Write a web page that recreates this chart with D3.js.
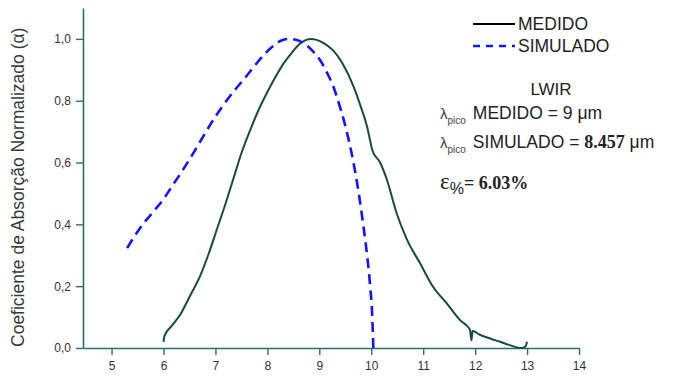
<!DOCTYPE html>
<html>
<head>
<meta charset="utf-8">
<script src="https://cdn.jsdelivr.net/npm/d3@7"></script>
<style>
  body { margin: 0; background: #fff; }
  svg { display: block; font-family: "Liberation Sans", Arial, sans-serif; }
</style>
</head>
<body>
<div id="view"></div>
<script>
// measured curve (green) and simulated curve (blue dashed)
const medidoX = [6.0, 6.02, 6.15, 6.33, 6.5, 6.71, 6.87, 7.03, 7.2, 7.35, 7.5, 7.67, 7.83, 7.99, 8.15, 8.31, 8.47, 8.63, 8.75, 8.83, 8.95, 9.1, 9.27, 9.45, 9.66, 9.8, 9.92, 9.98, 10.02, 10.17, 10.3, 10.49, 10.69, 10.94, 11.19, 11.45, 11.71, 11.9, 11.93, 11.95, 12.1, 12.3, 12.48, 12.65, 12.8, 12.9, 12.97, 13.0];
const medidoY = [0.02, 0.04, 0.07, 0.11, 0.165, 0.235, 0.305, 0.385, 0.47, 0.55, 0.63, 0.705, 0.77, 0.825, 0.875, 0.92, 0.955, 0.985, 0.997, 1.0, 0.997, 0.985, 0.962, 0.92, 0.846, 0.78, 0.716, 0.67, 0.64, 0.6, 0.545, 0.435, 0.35, 0.274, 0.198, 0.145, 0.09, 0.06, 0.025, 0.055, 0.042, 0.03, 0.02, 0.01, 0.002, 0.0, 0.005, 0.02];

const simuladoX = [5.3, 5.46, 5.62, 5.8, 6.01, 6.17, 6.33, 6.5, 6.65, 6.82, 7.0, 7.17, 7.35, 7.55, 7.74, 7.93, 8.12, 8.27, 8.41, 8.55, 8.7, 8.86, 9.02, 9.15, 9.27, 9.37, 9.47, 9.57, 9.66, 9.76, 9.85, 9.92, 9.98, 10.02, 10.04];
const simuladoY = [0.323, 0.366, 0.404, 0.44, 0.484, 0.525, 0.565, 0.61, 0.652, 0.70, 0.749, 0.79, 0.83, 0.87, 0.91, 0.948, 0.978, 0.995, 1.0, 0.997, 0.986, 0.963, 0.93, 0.89, 0.846, 0.795, 0.738, 0.67, 0.598, 0.5, 0.393, 0.3, 0.198, 0.1, 0.0];

const xTicks = [5, 6, 7, 8, 9, 10, 11, 12, 13, 14];
const yTicks = [0, 0.2, 0.4, 0.6, 0.8, 1.0];

const W = 690, H = 378;
const axisColor = '#2f6f6a';
const medidoColor = '#184a42';
const simuladoColor = '#1414ff';

const svg = d3.select('#view').append('svg')
  .attr('width', W)
  .attr('height', H);

const x = d3.scaleLinear().domain([4.45, 14]).range([83, 579]);
const y = d3.scaleLinear().domain([0, 1.1]).range([348, 8]);

// x axis: major + minor ticks
const gx = svg.append('g').attr('transform', `translate(0, ${y(0)})`);
gx.call(d3.axisBottom(x).tickValues(d3.range(4.5, 14.01, 0.5)).tickSize(4).tickFormat(''));
gx.call(d3.axisBottom(x).tickValues(xTicks).tickSize(7).tickSizeOuter(0).tickPadding(6).tickFormat(d3.format('d')));

// y axis
const gy = svg.append('g').attr('transform', `translate(${x(4.45)}, 0)`);
gy.call(d3.axisLeft(y).tickValues(d3.range(0, 1.101, 0.1)).tickSize(4).tickFormat(''));
gy.call(d3.axisLeft(y).tickValues(yTicks).tickSize(7).tickSizeOuter(0).tickPadding(5)
  .tickFormat(d => d3.format('.1f')(d).replace('.', ',')));

svg.selectAll('.domain').attr('stroke', axisColor).attr('stroke-width', 1.6);
svg.selectAll('.tick line').attr('stroke', axisColor).attr('stroke-width', 1.4);
svg.selectAll('.tick text')
  .attr('fill', '#333')
  .style('font-size', '12px')
  .style('font-family', '"Liberation Sans", Arial, sans-serif');

// y label
svg.append('text')
  .attr('transform', `translate(24, ${y(0.52)}) rotate(-90)`)
  .attr('text-anchor', 'middle')
  .attr('fill', '#3a3a3a')
  .style('font-size', '17.5px')
  .text('Coeficiente de Absorção Normalizado (α)');

// curves
const line = d3.line()
  .x(d => x(d[0]))
  .y(d => y(d[1]))
  .curve(d3.curveMonotoneX);

svg.append('path')
  .datum(d3.zip(medidoX, medidoY))
  .attr('fill', 'none')
  .attr('stroke', medidoColor)
  .attr('stroke-width', 2)
  .attr('d', line);

svg.append('path')
  .datum(d3.zip(simuladoX, simuladoY))
  .attr('fill', 'none')
  .attr('stroke', simuladoColor)
  .attr('stroke-width', 2.6)
  .attr('stroke-dasharray', '10,6')
  .attr('d', line);

// legend
const legend = svg.append('g');
legend.append('line')
  .attr('x1', 473).attr('x2', 515).attr('y1', 24).attr('y2', 24)
  .attr('stroke', '#000').attr('stroke-width', 2.2);
legend.append('text').attr('x', 518).attr('y', 30)
  .style('font-size', '17.5px').attr('fill', '#222').text('MEDIDO');
legend.append('line')
  .attr('x1', 473).attr('x2', 515).attr('y1', 46).attr('y2', 46)
  .attr('stroke', simuladoColor).attr('stroke-width', 2.4)
  .attr('stroke-dasharray', '7,6');
legend.append('text').attr('x', 518).attr('y', 52)
  .style('font-size', '17.5px').attr('fill', '#222').text('SIMULADO');

// annotations
svg.append('text').attr('x', 551).attr('y', 95)
  .attr('text-anchor', 'middle')
  .style('font-size', '17px').attr('fill', '#222').text('LWIR');

const t1 = svg.append('text').attr('x', 440).attr('y', 119)
  .style('font-size', '17.5px').attr('fill', '#222');
t1.append('tspan').style('font-size', '15px').attr('fill', '#444').text('λ');
t1.append('tspan').attr('dy', 5).style('font-size', '10px').attr('fill', '#444').text('pico');
t1.append('tspan').attr('dy', -5).attr('dx', 7).text('MEDIDO = 9 μm');

const t2 = svg.append('text').attr('x', 440).attr('y', 148)
  .style('font-size', '17.5px').attr('fill', '#222');
t2.append('tspan').style('font-size', '15px').attr('fill', '#444').text('λ');
t2.append('tspan').attr('dy', 5).style('font-size', '10px').attr('fill', '#444').text('pico');
t2.append('tspan').attr('dy', -5).attr('dx', 7).text('SIMULADO = ');
t2.append('tspan')
  .style('font-family', '"Liberation Serif", "Times New Roman", serif')
  .style('font-weight', 'bold').style('font-size', '18px').text('8.457');
t2.append('tspan').text(' μm');

const t3 = svg.append('text').attr('x', 440).attr('y', 189)
  .style('font-family', '"Liberation Serif", "Times New Roman", serif')
  .attr('fill', '#222');
t3.append('tspan').style('font-size', '23px').text('ε');
t3.append('tspan').attr('dy', 5).style('font-size', '16px')
  .style('font-family', '"Liberation Sans", Arial, sans-serif').text('%');
t3.append('tspan').attr('dy', -5).style('font-size', '18px').style('font-weight', 'bold').text('= 6.03%');
</script>
</body>
</html>
